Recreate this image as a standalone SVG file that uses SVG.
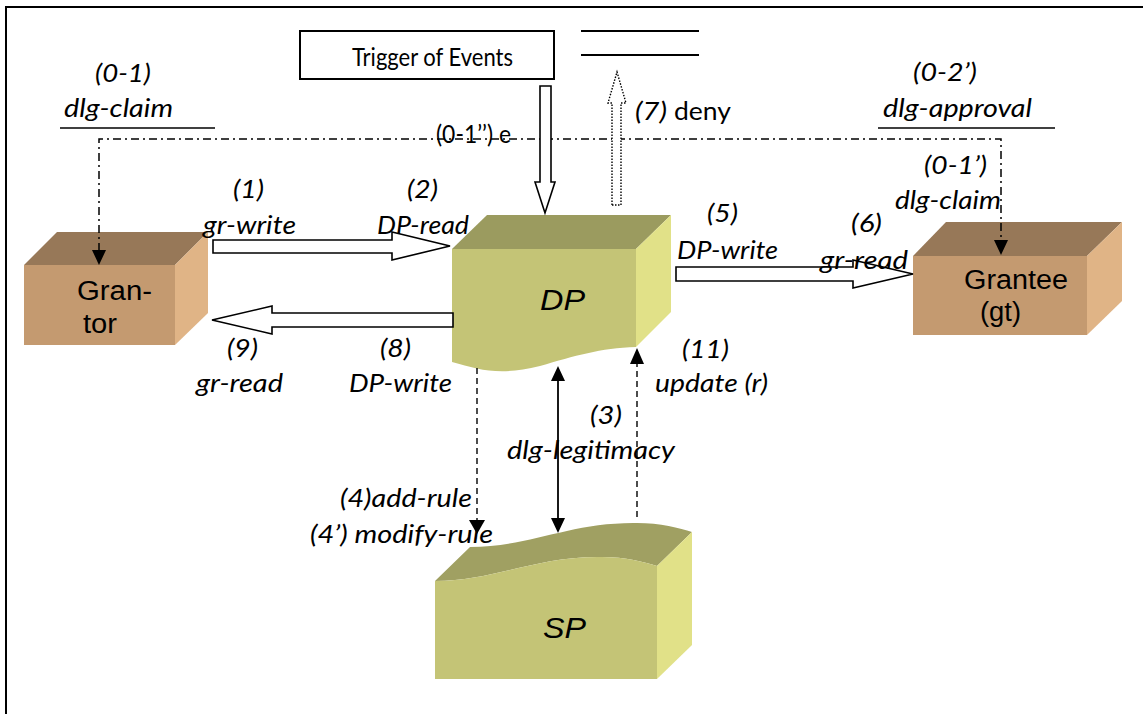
<svg xmlns="http://www.w3.org/2000/svg" width="1143" height="714" viewBox="0 0 1143 714">
<defs>
<style>
.lbl{font-family:Lato,"Open Sans","Liberation Sans",sans-serif;font-style:italic;font-size:26px;fill:#000}
.up{font-family:Lato,"Open Sans","Liberation Sans",sans-serif;font-size:25px;fill:#000}
.nd{font-family:"Liberation Sans",Arial,sans-serif;font-size:27px;fill:#000}
.ndi{font-family:"Liberation Sans",Arial,sans-serif;font-size:29px;font-style:italic;fill:#000}
.blk{fill:#fff;stroke:#000;stroke-width:1.6}
.dd{fill:none;stroke:#000;stroke-width:1.5;stroke-dasharray:8,4,2,4}
.dash{fill:none;stroke:#000;stroke-width:1.4;stroke-dasharray:6,4}
.ah{fill:#000}
</style>
</defs>
<rect x="6" y="7" width="1160" height="720" fill="#fff" stroke="#000" stroke-width="2"/>

<g id="trigger">
<rect x="300" y="31" width="254" height="48" fill="#fff" stroke="#000" stroke-width="2"/>
<text class="up" x="352" y="66" font-size="21" textLength="161" lengthAdjust="spacingAndGlyphs">Trigger of Events</text>
</g>
<g id="deny-lines">
<line x1="581" y1="31" x2="699" y2="31" stroke="#000" stroke-width="2"/>
<line x1="581" y1="55" x2="699" y2="55" stroke="#000" stroke-width="2"/>
</g>

<g id="grantor">
<polygon points="24,265 57,232 208,232 175,265" fill="#977858"/>
<polygon points="175,265 208,232 208,313 175,345" fill="#E0B486"/>
<rect x="24" y="265" width="151" height="80" fill="#C49A70"/>
<text class="nd" x="77" y="300" textLength="75" lengthAdjust="spacingAndGlyphs">Gran-</text>
<text class="nd" x="83" y="333" textLength="34" lengthAdjust="spacingAndGlyphs">tor</text>
</g>

<g id="grantee">
<polygon points="913,256 946,222 1122,222 1087,256" fill="#977858"/>
<polygon points="1087,256 1122,222 1122,301 1087,335" fill="#E0B486"/>
<rect x="913" y="256" width="174" height="79" fill="#C49A70"/>
<text class="nd" x="964" y="289" textLength="104" lengthAdjust="spacingAndGlyphs">Grantee</text>
<text class="nd" x="980" y="321" textLength="41" lengthAdjust="spacingAndGlyphs">(gt)</text>
</g>

<g id="dp">
<polygon points="452,249 487,215 671,215 636,249" fill="#9B9B5F"/>
<polygon points="636,249 671,215 671,312 636,347" fill="#E1E188"/>
<path d="M452,249 H636 V347 C600,348 575,356 540,366 C500,376 480,370 452,362 Z" fill="#C4C476"/>
<text class="ndi" x="540" y="310" textLength="45" lengthAdjust="spacingAndGlyphs">DP</text>
</g>

<g id="sp">
<path d="M435,581 C495,581 535,556 602,557 C625,557 645,562 657,566 L692,532 C680,528 660,523 637,523 C570,522 530,547 470,547 Z" fill="#A0A062"/>
<path d="M657,566 L692,532 L692,645 L657,679 Z" fill="#E1E188"/>
<path d="M435,581 C495,581 535,556 602,557 C625,557 645,562 657,566 L657,679 L435,679 Z" fill="#C4C476"/>
<text class="ndi" x="543" y="638" textLength="43" lengthAdjust="spacingAndGlyphs">SP</text>
</g>

<g id="connectors">
<path class="dd" d="M99,251 V139 H1001 V241"/>
<polygon class="ah" points="92,250 106,250 99,265"/>
<polygon class="ah" points="994,240 1008,240 1001,255"/>
<line x1="60" y1="128" x2="215" y2="128" stroke="#000" stroke-width="1.3"/>
<line x1="878" y1="128" x2="1055" y2="128" stroke="#000" stroke-width="1.3"/>
<polygon class="blk" points="213,240 392,240 392,232 450,246 392,260 392,253 213,253"/>
<polygon class="blk" points="453,313 272,313 272,306 212,320 272,334 272,327 453,327"/>
<polygon class="blk" points="676,267 853,267 853,260 913,274 853,288 853,281 676,281"/>
<polygon class="blk" points="540,86 551,86 551,182 555,182 545,213 535,182 540,182"/>
<polygon points="612,205 621,205 621,103 626,103 617,72 608,103 612,103" fill="#fff" stroke="#000" stroke-width="1.4" stroke-dasharray="1.5,1.5"/>
<line class="dash" x1="477" y1="368" x2="477" y2="521"/>
<polygon class="ah" points="469,520 485,520 477,534"/>
<line x1="558" y1="378" x2="558" y2="521" stroke="#000" stroke-width="1.8"/>
<polygon class="ah" points="558,366 551,381 565,381"/>
<polygon class="ah" points="558,533 551,518 565,518"/>
<line class="dash" x1="637" y1="517" x2="637" y2="362"/>
<polygon class="ah" points="637,348 630,364 644,364"/>
</g>

<g id="labels">
<text class="lbl" x="95" y="82" textLength="56" lengthAdjust="spacingAndGlyphs">(0-1)</text>
<text class="lbl" x="64" y="117" textLength="109" lengthAdjust="spacingAndGlyphs">dlg-claim</text>
<text class="lbl" x="913" y="81" textLength="64" lengthAdjust="spacingAndGlyphs">(0-2’)</text>
<text class="lbl" x="883" y="117" textLength="149" lengthAdjust="spacingAndGlyphs">dlg-approval</text>
<text class="lbl" x="924" y="174" textLength="63" lengthAdjust="spacingAndGlyphs">(0-1’)</text>
<text class="lbl" x="895" y="209" textLength="106" lengthAdjust="spacingAndGlyphs">dlg-claim</text>
<text class="up" x="436" y="143" font-size="15" textLength="75" lengthAdjust="spacingAndGlyphs">(0-1’’) e</text>
<text class="lbl" x="635" y="120" textLength="32" lengthAdjust="spacingAndGlyphs">(7)</text>
<text class="up" x="674" y="120" textLength="57" lengthAdjust="spacingAndGlyphs">deny</text>
<text class="lbl" x="233" y="198" textLength="31" lengthAdjust="spacingAndGlyphs">(1)</text>
<text class="lbl" x="203" y="234" textLength="93" lengthAdjust="spacingAndGlyphs">gr-write</text>
<text class="lbl" x="407" y="198" textLength="31" lengthAdjust="spacingAndGlyphs">(2)</text>
<text class="lbl" x="377" y="234" textLength="92" lengthAdjust="spacingAndGlyphs">DP-read</text>
<text class="lbl" x="707" y="222" textLength="31" lengthAdjust="spacingAndGlyphs">(5)</text>
<text class="lbl" x="677" y="259" textLength="101" lengthAdjust="spacingAndGlyphs">DP-write</text>
<text class="lbl" x="851" y="232" textLength="31" lengthAdjust="spacingAndGlyphs">(6)</text>
<text class="lbl" x="820" y="269" textLength="88" lengthAdjust="spacingAndGlyphs">gr-read</text>
<text class="lbl" x="227" y="357" textLength="31" lengthAdjust="spacingAndGlyphs">(9)</text>
<text class="lbl" x="196" y="392" textLength="87" lengthAdjust="spacingAndGlyphs">gr-read</text>
<text class="lbl" x="380" y="357" textLength="31" lengthAdjust="spacingAndGlyphs">(8)</text>
<text class="lbl" x="349" y="392" textLength="103" lengthAdjust="spacingAndGlyphs">DP-write</text>
<text class="lbl" x="682" y="358" textLength="47" lengthAdjust="spacingAndGlyphs">(11)</text>
<text class="lbl" x="655" y="392" textLength="113" lengthAdjust="spacingAndGlyphs">update (r)</text>
<text class="lbl" x="590" y="424" textLength="32" lengthAdjust="spacingAndGlyphs">(3)</text>
<text class="lbl" x="507" y="459" textLength="168" lengthAdjust="spacingAndGlyphs">dlg-legitimacy</text>
<text class="lbl" x="340" y="507" textLength="132" lengthAdjust="spacingAndGlyphs">(4)add-rule</text>
<text class="lbl" x="310" y="543" textLength="183" lengthAdjust="spacingAndGlyphs">(4’) modify-rule</text>
</g>
</svg>
